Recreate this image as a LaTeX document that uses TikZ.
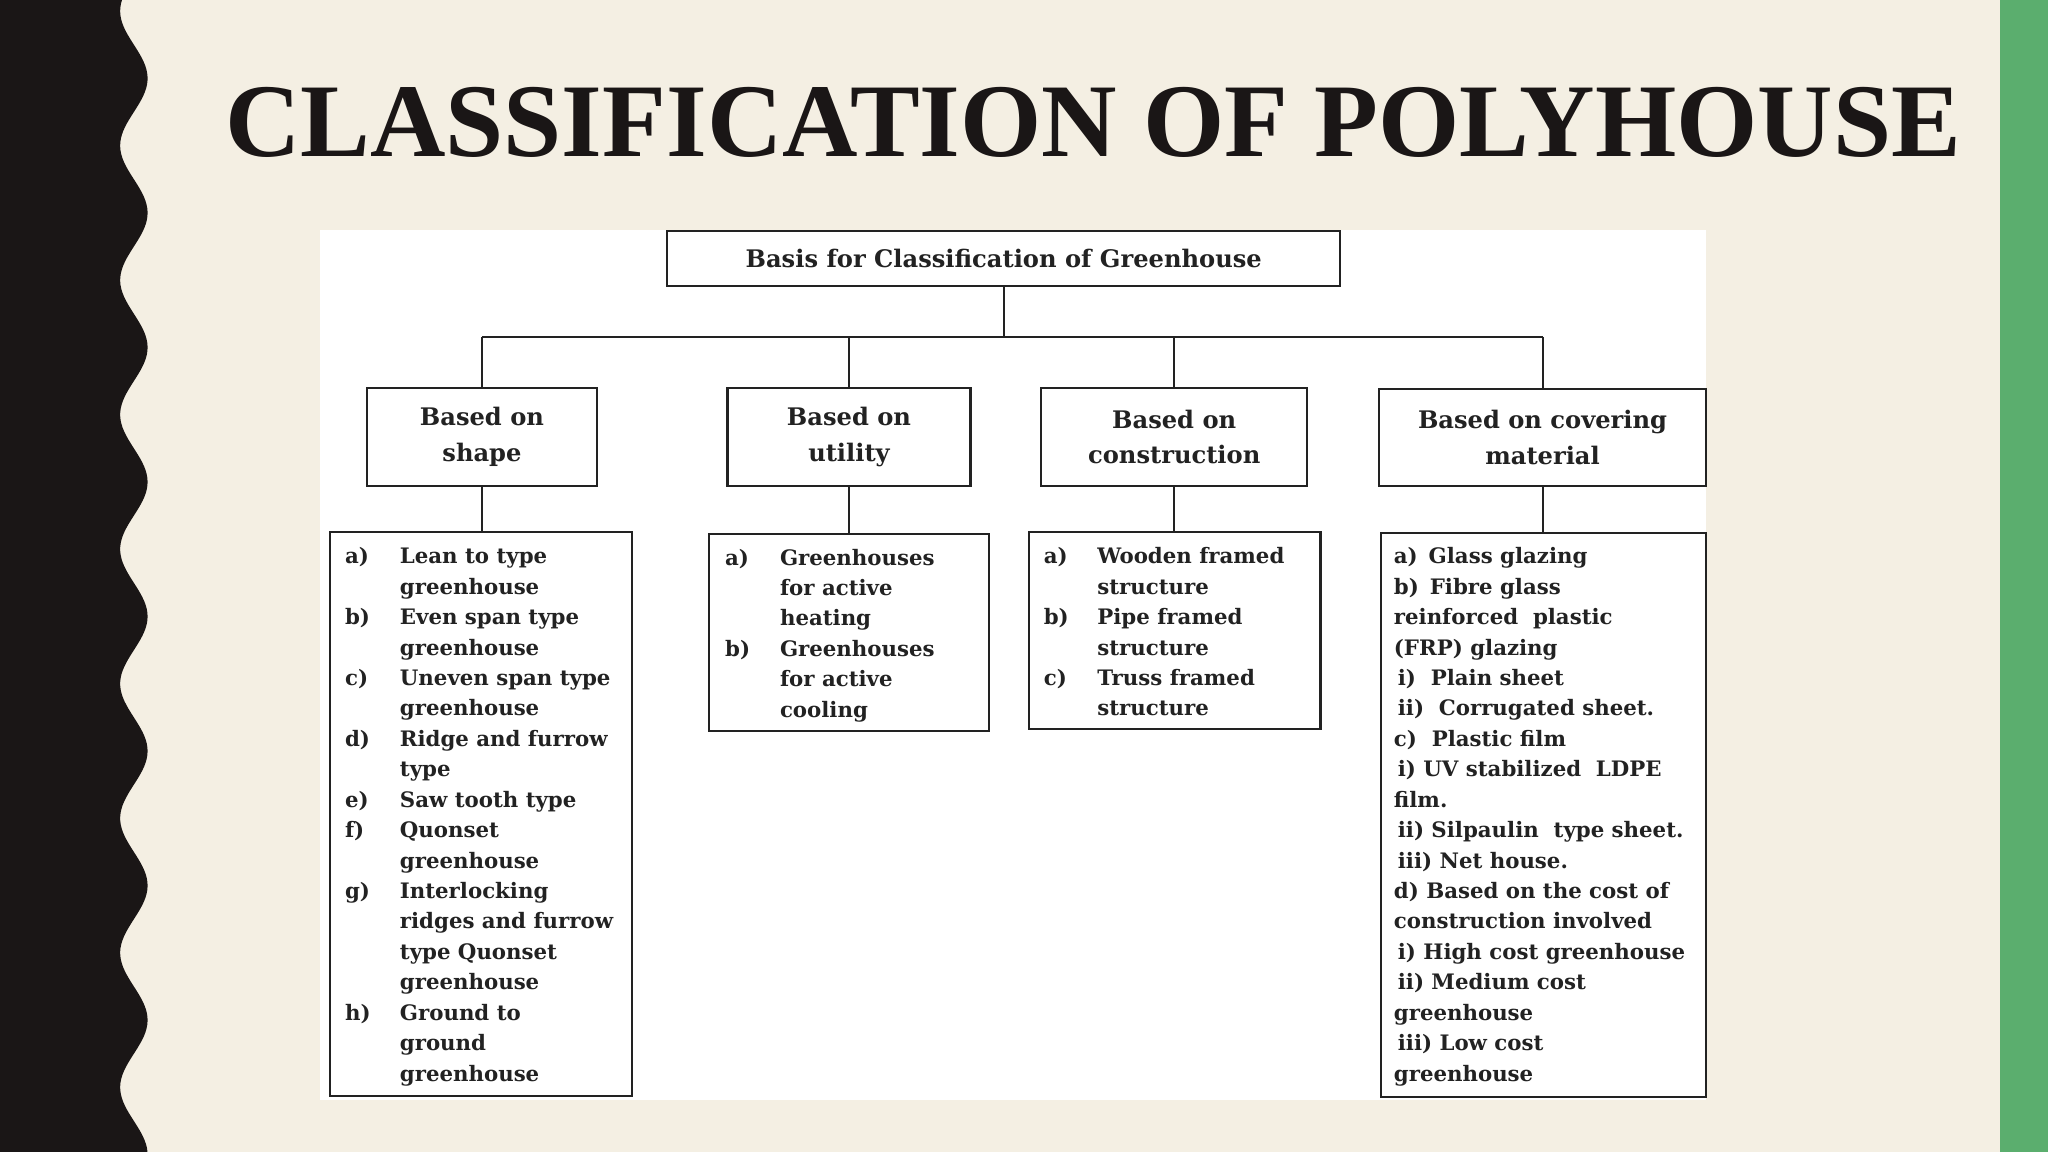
\documentclass[tikz,border=0pt]{standalone}
\usepackage{fontspec}
\setmainfont{Liberation Serif}
\newfontfamily\boxfont{DejaVu Serif}
\definecolor{cream}{HTML}{F4EFE3}
\definecolor{band}{HTML}{1A1616}
\definecolor{greenstrip}{HTML}{5BAE6E}
\definecolor{ink}{HTML}{222222}
\begin{document}
\begin{tikzpicture}[x=1pt,y=-1pt,
  box/.style={draw=ink,line width=1.6pt,inner sep=0pt},
  conn/.style={draw=ink,line width=1.5pt},
  head/.style={font=\boxfont\fontsize{18.5}{27}\selectfont\bfseries,align=center,text=ink},
  listtxt/.style={font=\boxfont\fontsize{16.3}{23.3}\selectfont\bfseries,align=left,text=ink,inner sep=0pt,anchor=north west}]
\useasboundingbox (0,0) rectangle (1568,882);
\fill[cream] (0,0) rectangle (1568,882);
\fill[band] (0,0) -- plot[domain=0:882,samples=300] ({102.5+10.5*sin(\x/103*360-119.7)},\x) -- (0,882) -- cycle;
\fill[greenstrip] (1531,0) rectangle (1568,882);
\node[font=\fontsize{80}{90}\selectfont\bfseries,text=band,anchor=base] (title) at (837,120) {CLASSIFICATION OF POLYHOUSE};
\fill[white] (245,176) rectangle (1306,842);
% boxes
\node[box,minimum width=515pt,minimum height=42pt,font=\boxfont\fontsize{18.5}{23}\selectfont\bfseries,text=ink] (root) at (768.5,198) {Basis for Classification of Greenhouse};
\node[box,minimum width=176pt,minimum height=75pt] (shape) at (369,334.5) {};
\node[head] at (shape) {Based on\\shape};
\node[box,minimum width=186pt,minimum height=75pt] (utility) at (650,334.5) {};
\node[head] at (utility) {Based on\\utility};
\node[box,minimum width=204pt,minimum height=75pt] (constr) at (899,334.5) {};
\node[head] at (constr) {Based on\\construction};
\node[box,minimum width=250pt,minimum height=74pt] (cover) at (1181,335) {};
\node[head] at (cover) {Based on covering\\material};
\node[box,minimum width=231pt,minimum height=432pt] (shapelist) at (368.5,623) {};
\node[box,minimum width=214pt,minimum height=151pt] (utillist) at (650,484.5) {};
\node[box,minimum width=223pt,minimum height=151pt] (constrlist) at (899.5,482.5) {};
\node[box,minimum width=249pt,minimum height=432pt] (coverlist) at (1181.5,624) {};
% connectors
\coordinate (busL) at (369,258);
\coordinate (busR) at (1181,258);
\draw[conn] (root.south) -- (root.south |- busL);
\draw[conn] (busL) -- (busR);
\draw[conn] (busL) -- (shape.north);
\draw[conn] (utility.north |- busL) -- (utility.north);
\draw[conn] (constr.north |- busL) -- (constr.north);
\draw[conn] (busR) -- (cover.north);
\draw[conn] (shape.south) -- (shape.south |- shapelist.north);
\draw[conn] (utility.south) -- (utility.south |- utillist.north);
\draw[conn] (constr.south) -- (constr.south |- constrlist.north);
\draw[conn] (cover.south) -- (cover.south |- coverlist.north);
% lists
\newcommand{\lb}[2]{\makebox[#1][l]{#2}}
\node[listtxt] (shapetxt) at (264,419) {%
\lb{42pt}{a)}Lean to type\\ \hspace*{42pt}greenhouse\\
\lb{42pt}{b)}Even span type\\ \hspace*{42pt}greenhouse\\
\lb{42pt}{c)}Uneven span type\\ \hspace*{42pt}greenhouse\\
\lb{42pt}{d)}Ridge and furrow\\ \hspace*{42pt}type\\
\lb{42pt}{e)}Saw tooth type\\
\lb{42pt}{f)}Quonset\\ \hspace*{42pt}greenhouse\\
\lb{42pt}{g)}Interlocking\\ \hspace*{42pt}ridges and furrow\\ \hspace*{42pt}type Quonset\\ \hspace*{42pt}greenhouse\\
\lb{42pt}{h)}Ground to\\ \hspace*{42pt}ground\\ \hspace*{42pt}greenhouse};
\node[listtxt] (utiltxt) at (555,420) {%
\lb{42pt}{a)}Greenhouses\\ \hspace*{42pt}for active\\ \hspace*{42pt}heating\\
\lb{42pt}{b)}Greenhouses\\ \hspace*{42pt}for active\\ \hspace*{42pt}cooling};
\node[listtxt] (constrtxt) at (799,419) {%
\lb{41pt}{a)}Wooden framed\\ \hspace*{41pt}structure\\
\lb{41pt}{b)}Pipe framed\\ \hspace*{41pt}structure\\
\lb{41pt}{c)}Truss framed\\ \hspace*{41pt}structure};
\node[listtxt] (covertxt) at (1067,419) {%
a)\, Glass glazing\\
b)\, Fibre glass\\
reinforced\ \ plastic\\
(FRP) glazing\\
\hspace*{3pt}i)\ \ Plain sheet\\
\hspace*{3pt}ii)\ \ Corrugated sheet.\\
c)\ \ Plastic film\\
\hspace*{3pt}i) UV stabilized\ \ LDPE\\
film.\\
\hspace*{3pt}ii) Silpaulin\ \ type sheet.\\
\hspace*{3pt}iii)\ Net house.\\
d) Based on the cost of\\
construction involved\\
\hspace*{3pt}i) High cost greenhouse\\
\hspace*{3pt}ii) Medium cost\\
greenhouse\\
\hspace*{3pt}iii)\ Low cost\\
greenhouse};
\end{tikzpicture}
\end{document}
